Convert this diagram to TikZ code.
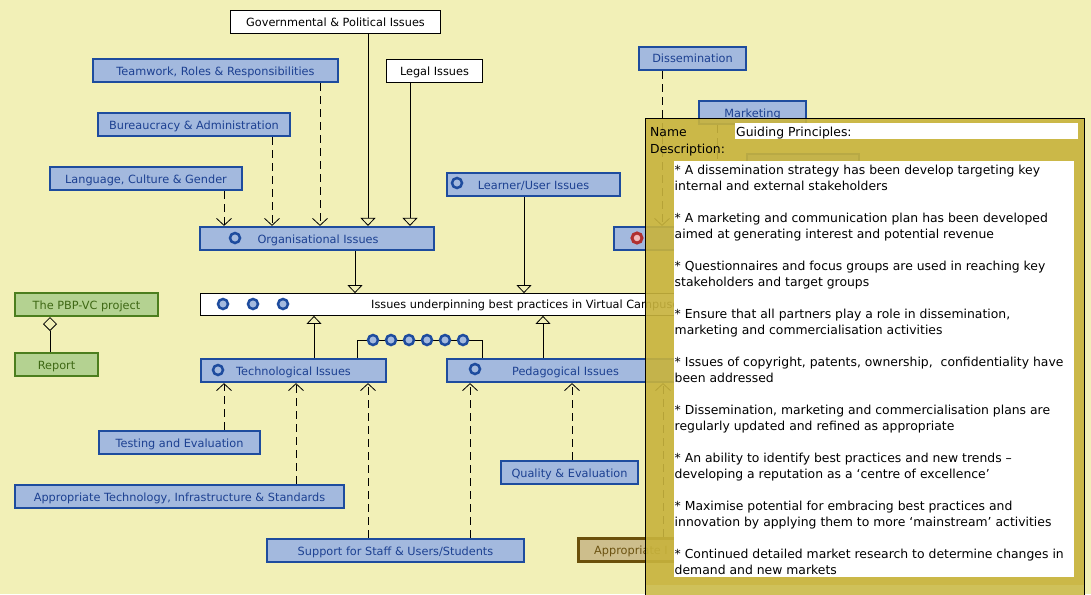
\documentclass[tikz,border=0pt]{standalone}
\usepackage{fontspec}
\setmainfont{DejaVu Sans}
\usetikzlibrary{arrows.meta}
\definecolor{bgc}{RGB}{242,240,183}
\definecolor{bfill}{RGB}{163,185,222}
\definecolor{bbord}{RGB}{30,76,158}
\definecolor{btext}{RGB}{28,64,145}
\definecolor{gfill}{RGB}{180,210,145}
\definecolor{gbord}{RGB}{76,126,30}
\definecolor{gtext}{RGB}{62,104,20}
\definecolor{tfill}{RGB}{205,190,140}
\definecolor{tbord}{RGB}{107,80,10}
\definecolor{ttext}{RGB}{107,82,16}
\definecolor{panelc}{RGB}{200,179,61}
\definecolor{bandc}{RGB}{208,194,92}
\definecolor{redc}{RGB}{176,48,48}
\definecolor{pinkc}{RGB}{242,186,186}
\begin{document}
\begin{tikzpicture}[x=1pt,y=-1pt,
  dfont/.style={font=\fontsize{11.3}{13}\selectfont},
  cls/.style={dfont, draw=bbord, fill=bfill, line width=2.2pt, text=btext, inner sep=0pt,
              minimum height=23pt, text height=9pt, text depth=0pt},
  wbox/.style={dfont, draw=black, fill=white, line width=0.8pt, text=black, inner sep=0pt,
              minimum height=23pt, text height=9pt, text depth=0pt},
  gbox/.style={cls, draw=gbord, fill=gfill, text=gtext},
  tbox/.style={cls, draw=tbord, fill=tfill, text=ttext, line width=3pt},
  icon/.style={circle, draw=bbord, fill=bfill, line width=2.5pt, minimum size=10pt, inner sep=0pt},
  ricon/.style={circle, draw=redc, fill=pinkc, line width=3pt, minimum size=10pt, inner sep=0pt},
  dep/.style={draw=black, line width=0.8pt, dash pattern=on 8pt off 5pt, -{Straight Barb[length=7pt,width=15pt]}},
  gen/.style={draw=black, line width=0.8pt, -{Triangle[open,length=8pt,width=15pt]}},
  ptext/.style={font=\fontsize{12.4}{16}\selectfont, text=black, inner sep=0pt, anchor=base west}
]
\fill[bgc] (0,0) rectangle (1091,594);
\useasboundingbox (0,0) rectangle (1091,594);

% ---------- boxes ----------
\node[wbox, minimum width=210pt] (gov) at (335.5,22) {Governmental \& Political Issues};
\node[cls, minimum width=245pt] (team) at (215.5,70.5) {Teamwork, Roles \& Responsibilities};
\node[wbox, minimum width=96pt] (legal) at (434.5,71) {Legal Issues};
\node[cls, minimum width=192pt] (bur) at (194,124.5) {Bureaucracy \& Administration};
\node[cls, minimum width=192pt] (lang) at (146,178.5) {Language, Culture \& Gender};
\node[cls, minimum width=234pt] (org) at (317,238.5) {\hspace*{2pt}Organisational Issues};
\node[icon] (orgi) at (235,238) {};
\node[cls, minimum width=173pt] (learner) at (533.5,184.5) {Learner/User Issues};
\node[icon] (learneri) at (457,183) {};

\node[wbox, minimum width=679pt, minimum height=22pt] (issues) at (540,304.5) {};
\node[dfont, anchor=base west, inner sep=0pt] (issuest) at (371,308.5) {Issues underpinning best practices in Virtual Campuses};
\node[icon] (ii1) at (223,304) {};
\node[icon] (ii2) at (253,304) {};
\node[icon] (ii3) at (283,304) {};

\node[cls, minimum width=185pt] (tech) at (293.5,370.5) {Technological Issues};
\node[icon] (techi) at (218,370) {};
\node[cls, minimum width=237pt] (ped) at (565.5,370.5) {Pedagogical Issues};
\node[icon] (pedi) at (475,369) {};

\node[cls, minimum width=125pt] (red) at (676.5,238.5) {};
\node[ricon] (redi) at (637,238) {};
\node[cls, minimum width=107pt] (diss) at (692.5,58.5) {Dissemination};
\node[cls, minimum width=107pt] (mark) at (752.5,112.5) {Marketing};
\node[cls, minimum width=112pt] (hidden) at (803,165.5) {};

\node[gbox, minimum width=143pt] (pbp) at (86.5,304.5) {The PBP-VC project};
\node[gbox, minimum width=83pt] (report) at (56.5,364.5) {Report};

\node[cls, minimum width=161pt] (testing) at (179.5,442.5) {Testing and Evaluation};
\node[cls, minimum width=329pt] (apptech) at (179.5,496.5) {Appropriate Technology, Infrastructure \& Standards};
\node[cls, minimum width=257pt] (support) at (395.5,550.5) {Support for Staff \& Users/Students};
\node[cls, minimum width=137pt] (quality) at (569.5,472.5) {Quality \& Evaluation};
\node[tbox, minimum width=180pt] (appr) at (668.5,550) {};
\node[dfont, text=ttext, anchor=base west, inner sep=0pt] (apprt) at (594,554.5) {Appropriate I};

% ---------- connectors ----------
\draw[dep] (lang.south -| 224,0) -- (org.north -| 224,0);
\draw[dep] (bur.south -| 272,0) -- (org.north -| 272,0);
\draw[dep] (team.south -| 320,0) -- (org.north -| 320,0);
\draw[gen] (gov.south -| 368,0) -- (org.north -| 368,0);
\draw[gen] (legal.south -| 410,0) -- (org.north -| 410,0);
\draw[gen] (org.south -| 355,0) -- (issues.north -| 355,0);
\draw[gen] (learner.south -| 524,0) -- (issues.north -| 524,0);
\draw[gen] (tech.north -| 314,0) -- (issues.south -| 314,0);
\draw[gen] (ped.north -| 543,0) -- (issues.south -| 543,0);

\draw[dep] (testing.north -| 224,0) -- (tech.south -| 224,0);
\draw[dep] (apptech.north -| 296,0) -- (tech.south -| 296,0);
\draw[dep] (support.north -| 368,0) -- (tech.south -| 368,0);
\draw[dep] (support.north -| 470,0) -- (ped.south -| 470,0);
\draw[dep] (quality.north -| 572,0) -- (ped.south -| 572,0);
\draw[dep] (appr.north -| 663,0) -- (ped.south -| 663,0);
\draw[dep] (diss.south -| 662,0) -- (red.north -| 662,0);
\draw[dep] (mark.south -| 717,0) -- (red.north -| 717,0);

\draw[line width=0.8pt, {Diamond[open,length=14pt,width=14pt]}-] (pbp.south -| 50,0) -- (report.north -| 50,0);

% lollipop chain
\draw[line width=0.8pt] (tech.north -| 357,0) |- (482,340) -- (ped.north -| 482,0);
\foreach \n/\xx in {1/373,2/391,3/409,4/427,5/445,6/463}
  \node[icon] (lp\n) at (\xx,340) {};

% ---------- property panel ----------
\fill[panelc, fill opacity=0.91] (645,118) rectangle (1085,600);
\fill[bandc, fill opacity=0.9] (646,585) rectangle (1084,600);
\draw[black, line width=1pt] (645.5,600) -- (645.5,118.5) -- (1084.5,118.5) -- (1084.5,600);
\fill[white] (735,123) rectangle (1078,139);
\fill[white] (674,161) rectangle (1074,577);
\node[ptext] (nm) at (650,136) {Name};
\node[ptext] (nmv) at (736,136) {Guiding Principles:};
\node[ptext] (desc) at (650,153) {Description:};

\foreach \i/\a/\b in {
 0/{* A dissemination strategy has been develop targeting key}/{internal and external stakeholders},
 1/{* A marketing and communication plan has been developed}/{aimed at generating interest and potential revenue},
 2/{* Questionnaires and focus groups are used in reaching key}/{stakeholders and target groups},
 3/{* Ensure that all partners play a role in dissemination,}/{marketing and commercialisation activities},
 4/{* Issues of copyright, patents, ownership,\ \ confidentiality have}/{been addressed},
 5/{* Dissemination, marketing and commercialisation plans are}/{regularly updated and refined as appropriate},
 6/{* An ability to identify best practices and new trends –}/{developing a reputation as a ‘centre of excellence’},
 7/{* Maximise potential for embracing best practices and}/{innovation by applying them to more ‘mainstream’ activities},
 8/{* Continued detailed market research to determine changes in}/{demand and new markets}}
{
  \node[ptext] (da\i) at (674.5,174+48*\i) {\a};
  \node[ptext] (db\i) at (674.5,190+48*\i) {\b};
}
\end{tikzpicture}
\end{document}
